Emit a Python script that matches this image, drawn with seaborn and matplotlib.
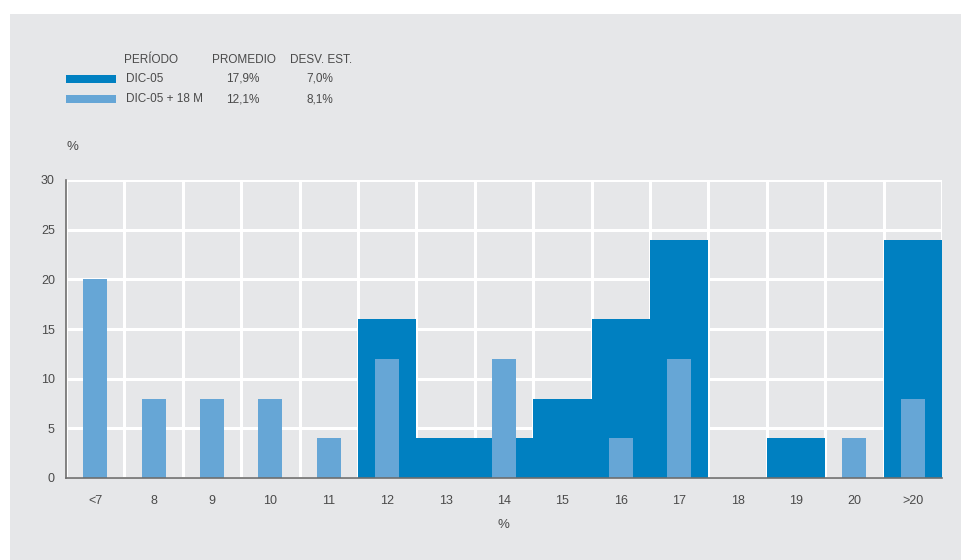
import matplotlib
matplotlib.use("Agg")
import matplotlib.pyplot as plt
from matplotlib.patches import Rectangle
from matplotlib.ticker import MultipleLocator, FixedLocator
import seaborn as sns

# Distribution of values (% of cases) per bucket, two periods
categories = ["<7", "8", "9", "10", "11", "12", "13", "14", "15", "16", "17", "18", "19", "20", ">20"]
dic05 = [0, 0, 0, 0, 0, 16, 4, 4, 8, 16, 24, 0, 4, 0, 24]
dic05_18m = [20, 8, 8, 8, 4, 12, 0, 12, 0, 4, 12, 0, 0, 4, 8]

# Summary table shown above the chart
periods = ["DIC-05", "DIC-05 + 18 M"]
means = ["17,9%", "12,1%"]
stdevs = ["7,0%", "8,1%"]
table_header = ["PERÍODO", "PROMEDIO", "DESV. EST."]

DARK = "#0080C1"
LIGHT = "#66A6D6"
PANEL = "#E6E7E9"
TEXT = "#4A4A4A"
SPINE = "#6E6E6E"

sns.set_theme(style="white")
plt.rcParams["font.family"] = ["Liberation Sans", "DejaVu Sans"]

W, H = 962, 560
fig = plt.figure(figsize=(W / 100, H / 100), dpi=100, facecolor="white")

def fx(px):
    return px / W

def fy(py):
    return 1 - py / H

# grey panel behind everything
fig.patches.append(Rectangle((fx(10), 0), 1 - fx(10), fy(14), transform=fig.transFigure,
                             facecolor=PANEL, edgecolor="none", zorder=-10))

ax = fig.add_axes([fx(66), fy(478), fx(942) - fx(66), fy(180) - fy(478)])
ax.set_facecolor(PANEL)

sns.barplot(x=categories, y=dic05, order=categories, color=DARK, saturation=1,
            width=1.0, linewidth=0, ax=ax, zorder=2)
sns.barplot(x=categories, y=dic05_18m, order=categories, color=LIGHT, saturation=1,
            width=0.41, linewidth=0, ax=ax, zorder=3)

ax.set_xlim(-0.5, len(categories) - 0.5)
ax.set_ylim(0, 30)
ax.yaxis.set_major_locator(MultipleLocator(5))
ax.xaxis.set_minor_locator(FixedLocator([i + 0.5 for i in range(-1, len(categories))]))

ax.set_axisbelow(True)
ax.grid(False)
ax.grid(axis="y", which="major", color="white", linewidth=2.2, zorder=1)
ax.grid(axis="x", which="minor", color="white", linewidth=2.2, zorder=1)

for side in ("top", "right"):
    ax.spines[side].set_visible(False)
for side in ("left", "bottom"):
    ax.spines[side].set_visible(True)
    ax.spines[side].set_color(SPINE)
    ax.spines[side].set_linewidth(1.2)
    ax.spines[side].set_zorder(4)

ax.tick_params(axis="both", which="both", length=0, labelsize=9, colors=TEXT)
ax.tick_params(axis="x", pad=12)
ax.tick_params(axis="y", pad=8)

ax.set_xlabel("%", fontsize=9.5, color=TEXT)
ax.xaxis.set_label_coords((503 - 66) / 876, (478 - 525) / 298)
ax.xaxis.label.set_va("center")
ax.set_ylabel("%", fontsize=9.5, color=TEXT, rotation=0, ha="center", va="center")
ax.yaxis.set_label_coords((72 - 66) / 876, (478 - 147) / 298)

# summary table with colour keys
fs = 8.5
hx = [124, 212, 290]
for x, label in zip(hx, table_header):
    fig.text(fx(x), fy(60), label, fontsize=fs, color=TEXT, ha="left", va="center")

row_y = [79, 99]
for y, col, name, m, s in zip(row_y, [DARK, LIGHT], periods, means, stdevs):
    fig.patches.append(Rectangle((fx(66), fy(y + 4)), fx(116) - fx(66), fy(y - 4) - fy(y + 4),
                                 transform=fig.transFigure, facecolor=col, edgecolor="none"))
    fig.text(fx(126), fy(y), name, fontsize=fs, color=TEXT, ha="left", va="center")
    fig.text(fx(243), fy(y), m, fontsize=fs, color=TEXT, ha="center", va="center")
    fig.text(fx(320), fy(y), s, fontsize=fs, color=TEXT, ha="center", va="center")

fig.savefig("out.png", dpi=100, facecolor="white")
